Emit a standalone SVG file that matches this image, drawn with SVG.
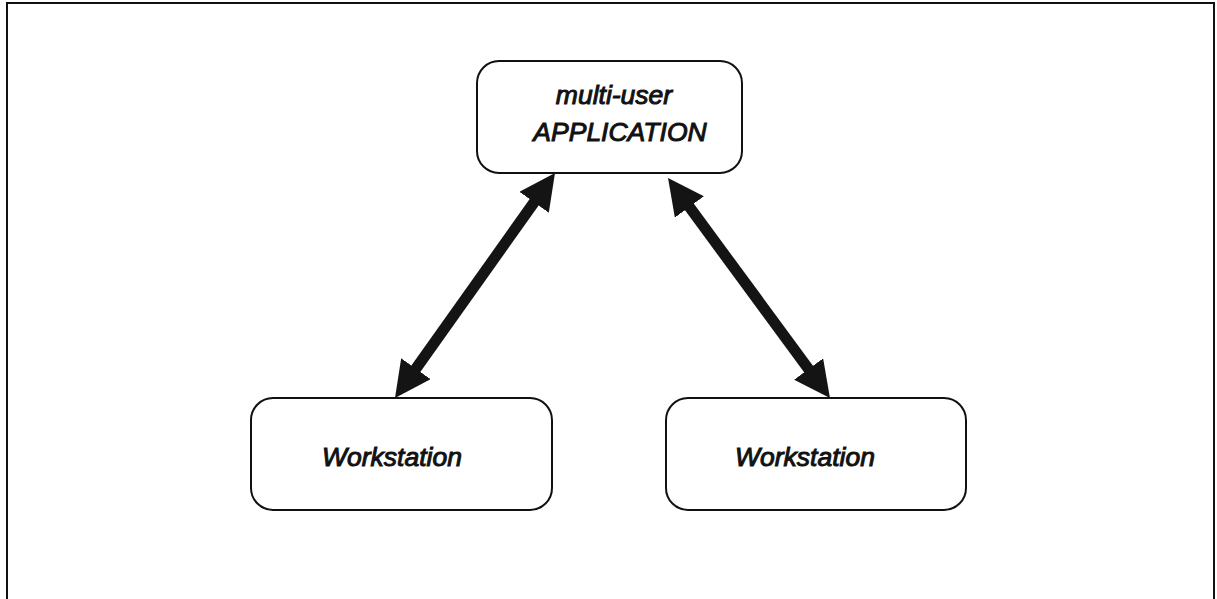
<svg xmlns="http://www.w3.org/2000/svg" width="1217" height="599" viewBox="0 0 1217 599">
  <defs>
    <style>
      .frame { fill: none; stroke: #111; stroke-width: 2; }
      .node rect { fill: #fff; stroke: #111; stroke-width: 2; }
      .node text { font-family: "Liberation Sans", Arial, sans-serif; font-style: italic; font-size: 26.5px; fill: #111; stroke: #111; stroke-width: 1; text-anchor: middle; }
      .link { stroke: #141414; stroke-width: 11; fill: none; }
    </style>
    <marker id="head" markerUnits="userSpaceOnUse" markerWidth="36" markerHeight="36" viewBox="0 0 36 36" refX="16" refY="18" orient="auto-start-reverse">
      <path d="M0,0 L36,18 L0,36 z" fill="#141414"/>
    </marker>
  </defs>

  <rect width="1217" height="599" fill="#fff"/>
  <!-- outer frame, open at the bottom -->
  <path class="frame" d="M7,599 V3 H1214 V599"/>

  <g id="app" class="node">
    <rect x="477" y="61" width="265" height="112" rx="22" ry="22"/>
    <text x="614" y="104">multi-user</text>
    <text x="620" y="141">APPLICATION</text>
  </g>

  <g id="workstation-left" class="node">
    <rect x="251" y="398" width="301" height="112" rx="22" ry="22"/>
    <text x="392" y="466">Workstation</text>
  </g>

  <g id="workstation-right" class="node">
    <rect x="666" y="398" width="300" height="112" rx="22" ry="22"/>
    <text x="805" y="466">Workstation</text>
  </g>

  <g id="connectors">
    <line class="link" x1="543.4" y1="189.3" x2="406.6" y2="381.7" marker-start="url(#head)" marker-end="url(#head)"/>
    <line class="link" x1="679.9" y1="194.1" x2="818.1" y2="381.9" marker-start="url(#head)" marker-end="url(#head)"/>
  </g>
</svg>
